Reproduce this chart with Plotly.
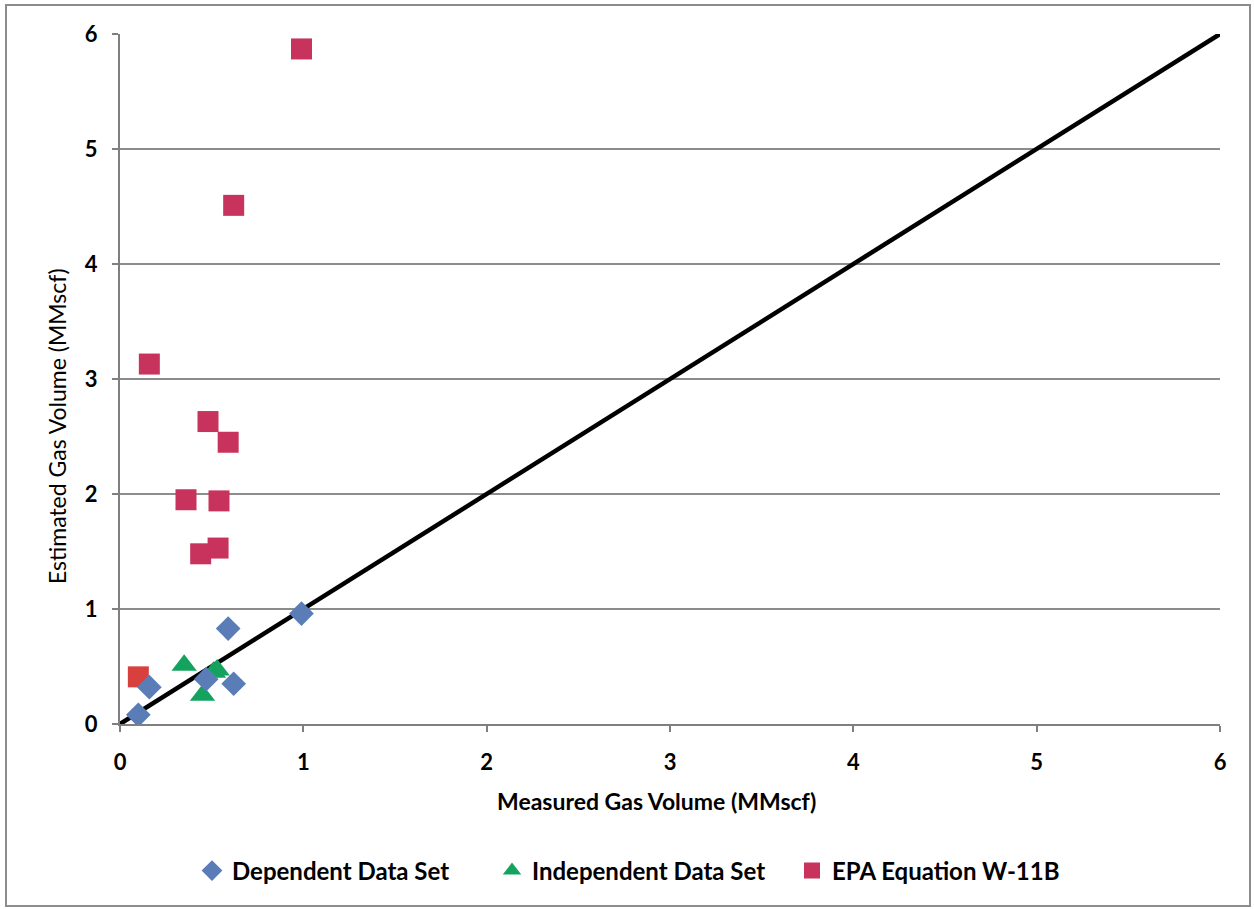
import plotly.graph_objects as go

# Measured vs. estimated gas volume (MMscf)
dep_measured = [0.10, 0.16, 0.47, 0.59, 0.62, 0.99]
dep_estimated = [0.08, 0.32, 0.39, 0.83, 0.35, 0.96]

ind_measured = [0.35, 0.45, 0.51, 0.53]
ind_estimated = [0.51, 0.25, 0.45, 0.47]

epa_measured = [0.99, 0.62, 0.16, 0.48, 0.59, 0.36, 0.54, 0.44, 0.535, 0.10]
epa_estimated = [5.87, 4.51, 3.13, 2.63, 2.45, 1.95, 1.94, 1.48, 1.53, 0.41]

ref_line = [0, 6]
tick_vals = [0, 1, 2, 3, 4, 5, 6]

FONT = "Lato"
BLUE = "#5A7DB8"
GREEN = "#14A35E"
CRIMSON = "#C8335E"

epa_colors = ["#D8403E" if v < 1 else CRIMSON for v in epa_estimated]

fig = go.Figure()

fig.add_trace(go.Scatter(
    x=ref_line, y=ref_line, mode="lines",
    line=dict(color="black", width=4.5),
    showlegend=False, hoverinfo="skip",
))

fig.add_trace(go.Scatter(
    x=epa_measured, y=epa_estimated, mode="markers",
    name="EPA Equation W-11B",
    marker=dict(symbol="square", size=21, color=epa_colors,
                line=dict(width=0)),
))

fig.add_trace(go.Scatter(
    x=ind_measured, y=ind_estimated, mode="markers",
    name="Independent Data Set",
    marker=dict(symbol="triangle-up", size=22, color=GREEN,
                line=dict(width=0)),
))

fig.add_trace(go.Scatter(
    x=dep_measured, y=dep_estimated, mode="markers",
    name="Dependent Data Set",
    marker=dict(symbol="diamond", size=19, color=BLUE,
                line=dict(width=0)),
))

# plot area spans x 120..1220, y 34..724 in a 1254x909 page
L, R, T, B = 120, 34, 34, 185
W, H = 1254, 909
pw, ph = W - L - R, H - T - B

def px(x):
    return (x - L) / pw

def py(y):
    return (H - B - y) / ph

fig.add_shape(type="rect", xref="paper", yref="paper",
              x0=px(6), x1=px(1250), y0=py(906), y1=py(5),
              line=dict(color="#8c8c8c", width=2), layer="below")

# axis titles
fig.add_annotation(text="Measured Gas Volume (MMscf)", xref="paper", yref="paper",
                   x=px(656), y=py(801), xanchor="center", yanchor="middle",
                   showarrow=False,
                   font=dict(family=FONT, size=23, weight="bold", color="black"))
fig.add_annotation(text="Estimated Gas Volume (MMscf)", xref="paper", yref="paper",
                   x=px(57), y=py(426), xanchor="center", yanchor="middle",
                   showarrow=False, textangle=-90,
                   font=dict(family=FONT, size=23, color="black"))

fig.update_layout(
    width=W, height=H,
    margin=dict(l=L, r=R, t=T, b=B),
    paper_bgcolor="white", plot_bgcolor="white",
    font=dict(family=FONT, color="black", size=22),
    showlegend=True,
    legend=dict(orientation="h", x=px(642), xanchor="center",
                y=py(871), yanchor="middle", traceorder="reversed",
                font=dict(family=FONT, size=24, color="black", weight="bold"),
                itemwidth=30, entrywidthmode="pixels", entrywidth=255),
    xaxis=dict(
        range=[0, 6], tickvals=tick_vals, showgrid=False, zeroline=False,
        showline=True, linecolor="#7f7f7f", linewidth=2,
        ticks="outside", ticklen=6, tickcolor="#7f7f7f", tickwidth=1.5,
        ticklabelstandoff=12,
        tickfont=dict(family=FONT, size=22, weight="bold"),
    ),
    yaxis=dict(
        range=[0, 6], tickvals=tick_vals, showgrid=True,
        gridcolor="#8c8c8c", gridwidth=1.5, zeroline=False,
        showline=True, linecolor="#7f7f7f", linewidth=2,
        ticks="outside", ticklen=6, tickcolor="#7f7f7f", tickwidth=1.5,
        ticklabelstandoff=10,
        tickfont=dict(family=FONT, size=22, weight="bold"),
    ),
)

fig.write_html("out.html")
